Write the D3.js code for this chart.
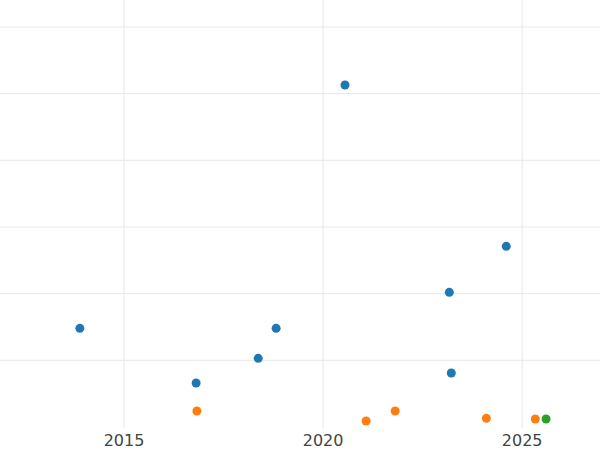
<!DOCTYPE html>
<html><head><meta charset="utf-8">
<script src="https://cdn.jsdelivr.net/npm/d3@7"></script>
<style>body{margin:0;background:#fff}</style>
</head><body>
<script>
// series values
const blueX = [2013.89, 2016.81, 2018.37, 2018.82, 2020.55, 2023.17, 2023.22, 2024.6];
const blueY = [1.48, 0.66, 1.03, 1.48, 5.13, 2.02, 0.81, 2.71];
const orangeX = [2016.83, 2021.08, 2021.81, 2024.1, 2025.33];
const orangeY = [0.24, 0.09, 0.24, 0.13, 0.12];
const greenX = [2025.6];
const greenY = [0.12];
const xTicks = [2015, 2020, 2025];
const yTicks = [1, 2, 3, 4, 5, 6];

const width = 600, height = 450;
const svg = d3.select("body").append("svg").attr("width", width).attr("height", height);

const x = d3.scaleLinear().domain([2011.884, 2026.955]).range([0, 600]);
const y = d3.scaleLinear().domain([0, 6]).range([427, 27]);

svg.append("g").selectAll("line").data(yTicks).join("line")
  .attr("x1", 0).attr("x2", width)
  .attr("y1", d => y(d)).attr("y2", d => y(d))
  .attr("stroke", "#e8e8e8").attr("stroke-width", 1);

svg.append("g").selectAll("line").data(xTicks).join("line")
  .attr("x1", d => x(d)).attr("x2", d => x(d))
  .attr("y1", 0).attr("y2", 428)
  .attr("stroke", "#e8e8e8").attr("stroke-width", 1);

svg.append("g").selectAll("text").data(xTicks).join("text")
  .attr("x", d => x(d)).attr("y", 446)
  .attr("text-anchor", "middle")
  .attr("font-family", "DejaVu Sans, sans-serif").attr("font-size", 16)
  .attr("fill", "#444").text(d => d);

const series = [
  {xs: blueX, ys: blueY, color: "#1f77b4"},
  {xs: orangeX, ys: orangeY, color: "#ff7f0e"},
  {xs: greenX, ys: greenY, color: "#2ca02c"}
];
series.forEach(s => {
  svg.append("g").selectAll("circle").data(s.xs).join("circle")
    .attr("cx", d => x(d)).attr("cy", (d, i) => y(s.ys[i]))
    .attr("r", 4.5).attr("fill", s.color);
});
</script>
</body></html>
